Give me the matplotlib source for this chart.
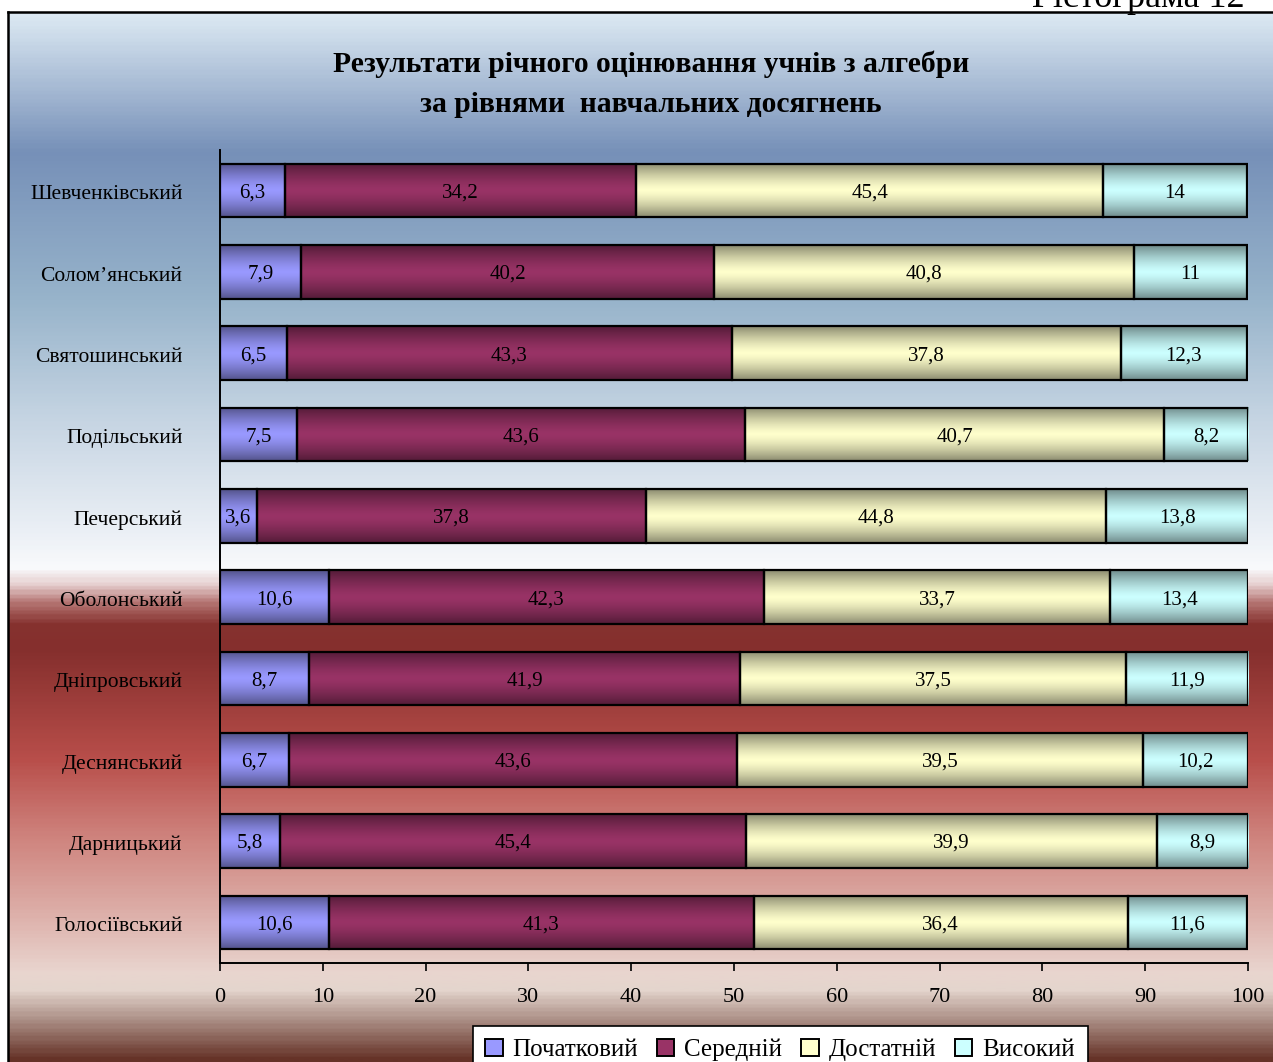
import numpy as np
import matplotlib.pyplot as plt
from matplotlib.colors import LinearSegmentedColormap, to_rgb
from matplotlib.patches import Patch

plt.rcParams['font.family'] = ['Liberation Serif', 'DejaVu Serif']

# data (top to bottom as in the picture)
districts = ['Шевченківський', 'Солом’янський', 'Святошинський', 'Подільський',
             'Печерський', 'Оболонський', 'Дніпровський', 'Деснянський',
             'Дарницький', 'Голосіївський']
initial = [6.3, 7.9, 6.5, 7.5, 3.6, 10.6, 8.7, 6.7, 5.8, 10.6]
medium = [34.2, 40.2, 43.3, 43.6, 37.8, 42.3, 41.9, 43.6, 45.4, 41.3]
sufficient = [45.4, 40.8, 37.8, 40.7, 44.8, 33.7, 37.5, 39.5, 39.9, 36.4]
high = [14, 11, 12.3, 8.2, 13.8, 13.4, 11.9, 10.2, 8.9, 11.6]
levels = ['Початковий', 'Середній', 'Достатній', 'Високий']
level_colors = ['#9999FF', '#993366', '#FFFFCC', '#CCFFFF']
xticks = list(range(0, 101, 10))

W, H = 1273, 1062
fig = plt.figure(figsize=(W / 100, H / 100), dpi=100)

# ---- background gradient (pixel y from top, colour) ----
bg_stops = [(12, '#dce9f3'), (150, '#7690b8'), (300, '#98b4cb'), (420, '#c6d5e3'),
            (540, '#eef2f7'), (568, '#f9fafc'), (585, '#e6cfcf'), (603, '#b57573'),
            (625, '#86322f'), (650, '#852f2d'), (760, '#b84e4a'), (840, '#cf847e'),
            (910, '#dcaca6'), (975, '#e9d5cf'), (992, '#e4d5cd'), (1020, '#b0958c'),
            (1062, '#663328')]
top_px = bg_stops[0][0]
span = bg_stops[-1][0] - top_px
cmap_bg = LinearSegmentedColormap.from_list(
    'bg', [((y - top_px) / span, c) for y, c in bg_stops])
bg = fig.add_axes([8 / W, 0, 1 - 8 / W, (H - 12) / H], zorder=-2)
bg.imshow(np.linspace(0, 1, 600)[:, None], cmap=cmap_bg, aspect='auto',
          extent=(0, 1, 0, 1), origin='upper', interpolation='bilinear')
bg.set_xticks([])
bg.set_yticks([])
for side in ['right', 'bottom']:
    bg.spines[side].set_visible(False)
for side in ['left', 'top']:
    bg.spines[side].set_linewidth(1.8)


def shade(color):
    # dark edges, bright middle, like the Excel fill
    t = np.linspace(0, 1, 64)
    f = 1 - 0.45 * np.abs(2 * t - 1) ** 1.4
    rgb = np.array(to_rgb(color))
    return (f[:, None] * rgb)[:, None, :]


def fmt(v):
    return f'{v:g}'.replace('.', ',')


# ---- main chart ----
ax = fig.add_axes([220 / W, 99 / H, 1028 / W, 813 / H])
ax.patch.set_alpha(0)

n = len(districts)
ypos = np.arange(n)[::-1]
bar_h = 0.66
series = [initial, medium, sufficient, high]
left = np.zeros(n)
for vals, col in zip(series, level_colors):
    vals = np.array(vals, dtype=float)
    bars = ax.barh(ypos, vals, left=left, height=bar_h, color=col, zorder=2)
    img = shade(col)
    for b, v in zip(bars, vals):
        x0, y0 = b.get_x(), b.get_y()
        ax.imshow(img, extent=(x0, x0 + b.get_width(), y0, y0 + b.get_height()),
                  aspect='auto', origin='lower', interpolation='bilinear', zorder=2.5)
        ax.text(x0 + b.get_width() / 2, y0 + b.get_height() / 2 - 0.03, fmt(v),
                ha='center', va='center', fontsize=15, zorder=4)
    ax.barh(ypos, vals, left=left, height=bar_h, fill=False, edgecolor='black',
            linewidth=1.6, zorder=3)
    left += vals

ax.set_xlim(0, 100)
ax.set_ylim(-0.5, n - 0.5)
ax.set_xticks(xticks)
ax.set_xticklabels([str(t) for t in xticks], fontsize=16)
ax.set_yticks(ypos - 0.02)
ax.set_yticklabels(districts, fontsize=15.5)
ax.tick_params(axis='y', length=0, pad=27)
ax.tick_params(axis='x', length=6, width=1.2, direction='out', pad=12)
for side in ['top', 'right']:
    ax.spines[side].set_visible(False)
for side in ['left', 'bottom']:
    ax.spines[side].set_linewidth(1.4)

# ---- titles ----
fig.text(651 / W, 1 - 84 / H, 'Результати річного оцінювання учнів з алгебри\nза рівнями  навчальних досягнень',
         ha='center', va='center', fontsize=21.3, fontweight='bold', linespacing=1.6)
fig.text(1245 / W, 1 - 7 / H, 'Гістограма 12', ha='right', va='baseline', fontsize=26)

# ---- legend ----
handles = [Patch(facecolor=c, edgecolor='black', linewidth=1.4) for c in level_colors]
leg = fig.legend(handles, levels, loc='upper center', ncol=4,
                 bbox_to_anchor=(780 / W, 1 - 1026 / H), fontsize=18,
                 frameon=True, fancybox=False, edgecolor='black', facecolor='white',
                 framealpha=1, handlelength=0.7, handleheight=0.7, handletextpad=0.4,
                 columnspacing=0.75, borderaxespad=0, borderpad=0.5)
leg.get_frame().set_linewidth(1.2)

fig.savefig('out.png', dpi=100)
